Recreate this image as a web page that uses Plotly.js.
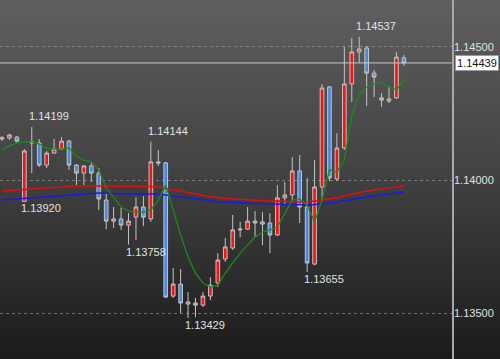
<!DOCTYPE html>
<html>
<head>
<meta charset="utf-8">
<script src="https://cdn.plot.ly/plotly-3.0.1.min.js"></script>
<style>
html,body{margin:0;padding:0;}
body{width:500px;height:359px;background:linear-gradient(to bottom,#5f5f5f 0%,#444 45%,#1b1b1b 100%);overflow:hidden;}
#chart{width:500px;height:359px;}
</style>
</head>
<body>
<div id="chart"></div>
<script>
// OHLC values (one entry per candle, left to right)
const openVals  = [1.14154,1.14158,1.14161,1.13920,1.14139,1.14139,1.14056,1.14101,1.14116,1.14146,
                   1.14056,1.14026,1.14053,1.14026,1.13925,1.13846,1.13854,1.13831,1.13861,1.13899,
                   1.13854,1.14068,1.14064,1.13565,1.13610,1.13535,1.13539,1.13531,1.13565,1.13614,
                   1.13704,1.13745,1.13813,1.13816,1.13846,1.13835,1.13839,1.13794,1.13933,1.13944,
                   1.14034,1.13899,1.13685,1.13974,1.14349,1.14004,1.14120,1.14360,1.14480,1.14495,
                   1.14401,1.14308,1.14296,1.14308,1.14458];
const highVals  = [1.14165,1.14173,1.14165,1.14116,1.14199,1.14154,1.14109,1.14154,1.14161,1.14150,
                   1.14060,1.14056,1.14068,1.14045,1.13951,1.13899,1.13895,1.13876,1.13936,1.13940,
                   1.14144,1.14113,1.14068,1.13670,1.13666,1.13580,1.13558,1.13580,1.13636,1.13726,
                   1.13783,1.13869,1.13843,1.13899,1.13884,1.13880,1.13876,1.13981,1.13993,1.14086,
                   1.14094,1.14008,1.14075,1.14360,1.14353,1.14176,1.14499,1.14533,1.14537,1.14503,
                   1.14413,1.14326,1.14353,1.14480,1.14469];
const lowVals   = [1.14146,1.14150,1.14139,1.13920,1.14026,1.14049,1.14045,1.14098,1.14113,1.14038,
                   1.13981,1.13981,1.13993,1.13888,1.13816,1.13820,1.13813,1.13758,1.13775,1.13828,
                   1.13843,1.14053,1.13558,1.13558,1.13501,1.13483,1.13486,1.13524,1.13550,1.13599,
                   1.13693,1.13738,1.13786,1.13813,1.13786,1.13756,1.13726,1.13790,1.13906,1.13918,
                   1.13839,1.13655,1.13681,1.13925,1.13996,1.13996,1.14113,1.14293,1.14439,1.14278,
                   1.14311,1.14274,1.14289,1.14304,1.14428];
const closeVals = [1.14158,1.14169,1.14146,1.14109,1.14143,1.14056,1.14101,1.14116,1.14146,1.14056,
                   1.14026,1.14053,1.14026,1.13929,1.13846,1.13854,1.13831,1.13846,1.13899,1.13861,
                   1.14068,1.14064,1.13561,1.13610,1.13539,1.13543,1.13531,1.13565,1.13606,1.13700,
                   1.13749,1.13813,1.13816,1.13846,1.13839,1.13843,1.13794,1.13933,1.13944,1.14034,
                   1.13899,1.13689,1.13974,1.14345,1.14008,1.14120,1.14360,1.14480,1.14491,1.14401,
                   1.14386,1.14300,1.14304,1.14461,1.14439];
// moving averages
const maShort = [1.14113,1.14128,1.14139,1.14143,1.14143,1.14135,1.14120,1.14116,1.14116,1.14120,
                 1.14090,1.14075,1.14068,1.14038,1.13970,1.13933,1.13899,1.13884,1.13880,1.13880,
                 1.13888,1.13925,1.13981,1.13888,1.13794,1.13711,1.13651,1.13614,1.13599,1.13606,
                 1.13651,1.13689,1.13726,1.13756,1.13786,1.13805,1.13813,1.13824,1.13873,1.13925,
                 1.13929,1.13906,1.13843,1.13925,1.14038,1.14030,1.14075,1.14244,1.14319,1.14349,
                 1.14360,1.14364,1.14349,1.14338,1.14375];
const maMid   = [1.13959,1.13961,1.13963,1.13966,1.13968,1.13970,1.13972,1.13974,1.13974,1.13976,
                 1.13978,1.13978,1.13978,1.13978,1.13978,1.13978,1.13978,1.13978,1.13978,1.13976,
                 1.13976,1.13974,1.13968,1.13963,1.13959,1.13953,1.13948,1.13942,1.13938,1.13934,
                 1.13931,1.13929,1.13927,1.13925,1.13923,1.13923,1.13921,1.13921,1.13919,1.13919,
                 1.13918,1.13918,1.13921,1.13925,1.13931,1.13934,1.13940,1.13948,1.13953,1.13959,
                 1.13963,1.13966,1.13970,1.13974,1.13978];
const maLong  = [1.13925,1.13927,1.13929,1.13931,1.13933,1.13934,1.13936,1.13938,1.13940,1.13944,
                 1.13946,1.13948,1.13949,1.13951,1.13951,1.13949,1.13948,1.13948,1.13948,1.13948,
                 1.13948,1.13948,1.13944,1.13940,1.13938,1.13934,1.13931,1.13927,1.13923,1.13919,
                 1.13918,1.13916,1.13914,1.13914,1.13912,1.13912,1.13910,1.13910,1.13908,1.13908,
                 1.13906,1.13906,1.13908,1.13910,1.13914,1.13918,1.13923,1.13927,1.13933,1.13936,
                 1.13940,1.13944,1.13948,1.13951,1.13955];
const tickValues = [1.135, 1.140, 1.145];
const tickLabels = ["1.13500", "1.14000", "1.14500"];
const currentPrice = 1.14439;
// marked highs / lows: [candle index, "high"|"low", label]
const marks = [[4,"high","1.14199"],[3,"low","1.13920"],[20,"high","1.14144"],[17,"low","1.13758"],
               [25,"low","1.13429"],[41,"low","1.13655"],[48,"high","1.14537"]];

const idx = openVals.map((_, i) => i);
const lblFont = {family: "Liberation Sans, Arial, sans-serif", size: 11, color: "#e2e2e2"};

const traces = [
  {type: "candlestick", x: idx, open: openVals, high: highVals, low: lowVals, close: closeVals,
   increasing: {line: {color: "#c4c4c4", width: 1}, fillcolor: "#ff1010"},
   decreasing: {line: {color: "#c4c4c4", width: 1}, fillcolor: "#4a88e0"},
   whiskerwidth: 0, hoverinfo: "skip", showlegend: false},
  {type: "scatter", mode: "lines", x: idx, y: maMid, line: {color: "#dd1111", width: 1.5}, hoverinfo: "skip", showlegend: false},
  {type: "scatter", mode: "lines", x: idx, y: maLong, line: {color: "#1a1ae0", width: 1.5}, hoverinfo: "skip", showlegend: false},
  {type: "scatter", mode: "lines", x: idx, y: maShort, line: {color: "#1c8a1c", width: 1.3}, hoverinfo: "skip", showlegend: false}
];

const annotations = marks.map(m => {
  const i = m[0];
  const isHigh = m[1] === "high";
  return {x: i, y: isHigh ? highVals[i] : lowVals[i], xref: "x", yref: "y", text: m[2],
          showarrow: false, xanchor: "left", yanchor: "middle", xshift: -5, yshift: isHigh ? 11 : -7,
          font: lblFont};
});
annotations.push({x: 1, xref: "paper", y: currentPrice, yref: "y", text: currentPrice.toFixed(5),
  showarrow: false, xanchor: "left", yanchor: "middle", xshift: 2,
  bgcolor: "#ffffff", bordercolor: "#9a9a9a", borderwidth: 1, borderpad: 1,
  font: {family: "Liberation Sans, Arial, sans-serif", size: 11, color: "#111"}});

const layout = {
  width: 500, height: 359,
  margin: {l: 0, r: 47, t: 0, b: 0, pad: 0},
  paper_bgcolor: "rgba(0,0,0,0)", plot_bgcolor: "rgba(0,0,0,0)",
  showlegend: false, hovermode: false,
  xaxis: {range: [-0.27, 60.6], showgrid: false, zeroline: false, showticklabels: false,
          ticks: "", showline: false, rangeslider: {visible: false}, fixedrange: true},
  yaxis: {range: [1.13329, 1.14675], side: "right", tickvals: tickValues, ticktext: tickLabels,
          showgrid: true, gridcolor: "rgba(170,170,170,0.55)", griddash: "dot", gridwidth: 1,
          zeroline: false, showline: false, ticks: "", tickfont: lblFont, fixedrange: true},
  shapes: [
    {type: "line", xref: "paper", yref: "y", x0: 0, x1: 1, y0: currentPrice, y1: currentPrice,
     line: {color: "#c8c8c8", width: 1}},
    {type: "line", xref: "paper", yref: "paper", x0: 1, x1: 1, y0: 0, y1: 1,
     line: {color: "#a8a8a8", width: 2}}
  ],
  annotations: annotations
};

Plotly.newPlot("chart", traces, layout, {displayModeBar: false, staticPlot: true});
</script>
</body>
</html>
